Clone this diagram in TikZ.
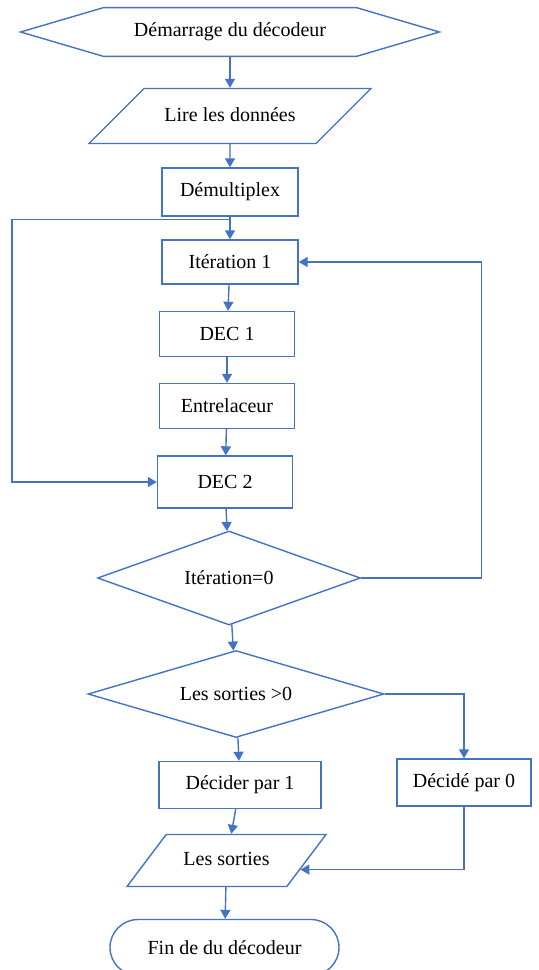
\documentclass[tikz,border=0pt]{standalone}
\usepackage{fontspec}
\setmainfont{Liberation Serif}
\usepackage{tikz}
\usetikzlibrary{arrows.meta, positioning, shapes.geometric, shapes.misc}
\definecolor{flowblue}{RGB}{68,114,196}

\tikzset{
  every node/.style={font=\fontsize{10}{12}\selectfont, inner sep=0pt},
  flow/.style={draw=flowblue, line width=0.7pt},
  base/.style={draw=flowblue, line width=0.7pt, text=black},
  box/.style={base, rectangle, minimum width=67.5pt, minimum height=22.5pt},
  hexa/.style={rectangle, text=black, minimum width=209pt, minimum height=24pt},
  inout/.style 2 args={base, trapezium, trapezium stretches body=true,
    text height=7pt, text depth=2pt, inner ysep=#2,
    trapezium left angle=#1, trapezium right angle=180-#1},
  test/.style={base, diamond, aspect=2.8},
  term/.style={base, rounded rectangle},
}

\begin{document}
\begin{tikzpicture}[
        x=1pt, y=1pt, node distance=1cm, on grid,
        >={Triangle[width=5pt,length=4.5pt]},
        ]
  \useasboundingbox (0,0) rectangle (269.5,-485);

  \node[hexa] (start) at (115,-16) {Démarrage du décodeur};
  \draw[flow] (start.west) -- ([xshift=41.5pt]start.north west) -- ([xshift=-41.5pt]start.north east)
    -- (start.east) -- ([xshift=-41.5pt]start.south east) -- ([xshift=41.5pt]start.south west) -- cycle;
  \node[inout={45}{9.25pt}, minimum width=141pt] (lire) [below=42pt of start] {Lire les données};
  \node[box, minimum width=68pt, minimum height=24pt] (demux) [below=38pt of lire] {Démultiplex};
  \node[box, minimum width=68pt, minimum height=22pt] (iter1) [below=35pt of demux] {Itération 1};
  \node[box] (dec1) [below=36pt of iter1, xshift=-1.5pt] {DEC 1};
  \node[box] (entr) [below=36pt of dec1] {Entrelaceur};
  \node[box, minimum height=26pt] (dec2) [below=38pt of entr, xshift=-1pt] {DEC 2};
  \node[test, minimum width=131.5pt, minimum height=47pt] (iter0) [below=48pt of dec2, xshift=2pt] {Itération=0};
  \node[test, minimum width=148pt, minimum height=43.5pt] (sortie) [below=58pt of iter0, xshift=3.5pt] {Les sorties >0};
  \node[box, minimum width=81pt, minimum height=23.5pt] (dec1bit) [below=45.5pt of sortie, xshift=2pt] {Décider par 1};
  \node[box, minimum width=67pt, minimum height=23.5pt] (dec0bit) at (232,-391.25) {Décidé par 0};
  \node[inout={53}{8.5pt}, minimum width=99.5pt] (sorties) [below=37.75pt of dec1bit, xshift=-6.75pt] {Les sorties};
  \node[term, minimum width=114.5pt, minimum height=28pt] (fin) [below=43.5pt of sorties, xshift=-1pt] {Fin de du décodeur};

  \draw[->, flow] (start) -- (lire);
  \draw[->, flow] (lire) -- (demux);
  \draw[flow] (demux.south) -- ++(0,-1.5) coordinate (split);
  \draw[->, flow] (split) -- (iter1);
  \draw[->, flow] (iter1) -- (dec1);
  \draw[->, flow] (dec1) -- (entr);
  \draw[->, flow] (entr) -- (dec2);
  \draw[->, flow] (dec2) -- (iter0);
  \draw[->, flow] (iter0) -- (sortie);
  \draw[->, flow] (sortie) -- (dec1bit);
  \draw[->, flow] (dec1bit) -- (sorties);
  \draw[->, flow] (sorties) -- (fin);
  % boucles
  \draw[->, flow] (split) -- ++(-109,0) |- (dec2.west);
  \draw[->, flow] (iter0.east) -- ++(60,0) |- (iter1.east);
  \draw[->, flow] (sortie.east) -| (dec0bit.north);
  \draw[->, flow] (dec0bit.south) |- (sorties.-7);
\end{tikzpicture}
\end{document}
